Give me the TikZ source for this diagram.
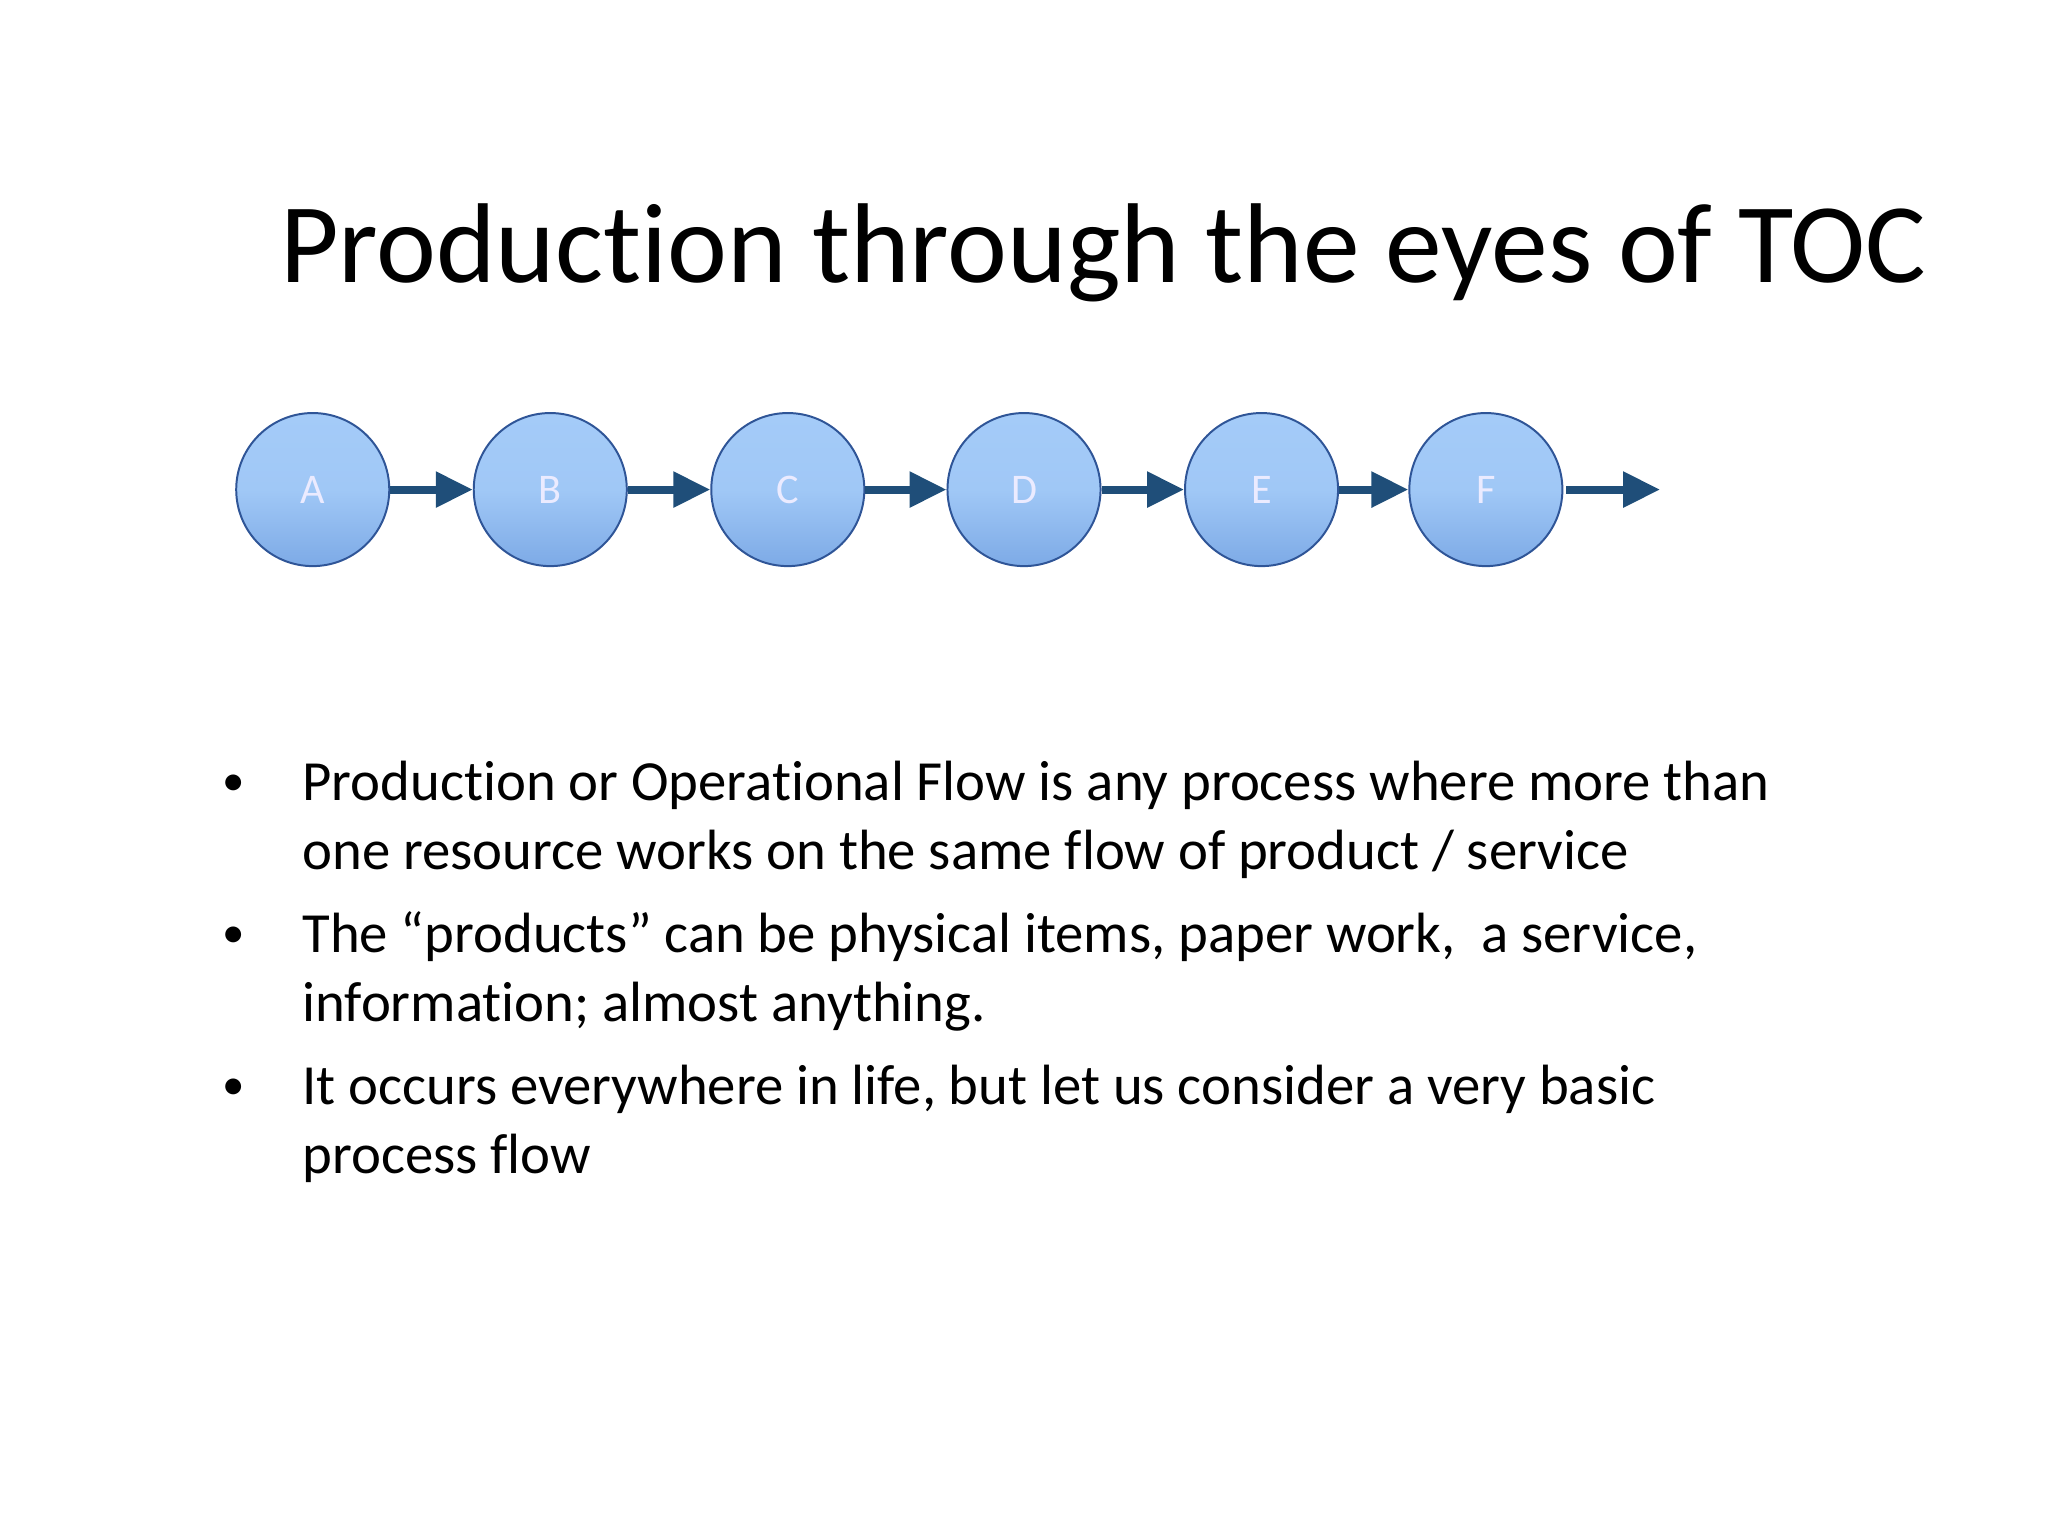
\documentclass[tikz,border=0pt]{standalone}
\usepackage{fontspec}
\setmainfont[Ligatures={NoCommon}]{Carlito}
\usetikzlibrary{arrows.meta}
\definecolor{cedge}{HTML}{2F5597}
\definecolor{ctop}{HTML}{A4CBF8}
\definecolor{cbot}{HTML}{7DAAE6}
\definecolor{arr}{HTML}{1F4E79}
\tikzset{
  proc/.style={circle,draw=cedge,line width=1.5pt,minimum size=116pt,inner sep=0pt,
    top color=ctop,bottom color=cbot,middle color=ctop!90!cbot,text=white!92!blue,font=\fontsize{32}{32}\selectfont},
  flow/.style={draw=arr,line width=6pt,-{Triangle[length=28pt,width=26pt]}},
  body/.style={anchor=base west,inner sep=0pt,font=\fontsize{43}{43}\selectfont},
  dot/.style={anchor=base,inner sep=0pt,font=\fontsize{34}{34}\selectfont}
}
\begin{document}
\begin{tikzpicture}[x=1pt,y=-1pt]
\useasboundingbox (0,0) rectangle (1552,1164);
\node[anchor=base west,inner sep=0pt,font=\fontsize{86}{86}\selectfont] (title) at (212,214) {Production through the eyes of TOC};
\node[proc] (A) at (237,371) {A};
\node[proc] (B) at (417,371) {B};
\node[proc] (C) at (597,371) {C};
\node[proc] (D) at (776,371) {D};
\node[proc] (E) at (956,371) {E};
\node[proc] (F) at (1126,371) {F};
\coordinate (end) at (1258,371);
\draw[flow] (A.east) -- (B.west);
\draw[flow] (B.east) -- (C.west);
\draw[flow] (C.east) -- (D.west);
\draw[flow] (D.east) -- (E.west);
\draw[flow] (E.east) -- (F.west);
\draw[flow] (F.east) ++(2,0) coordinate (fs) (fs) -- (end);
\node[dot] (d1) at (177,603) {•};
\node[dot] (d2) at (177,718) {•};
\node[dot] (d3) at (177,833) {•};
\node[body] (l1) at (229,607) {Production or Operational Flow is any process where more than};
\node[body] (l2) at (229,659) {one resource works on the same flow of product / service};
\node[body] (l3) at (229,722) {The “products” can be physical items, paper work,\ \ a service,};
\node[body] (l4) at (229,774) {information; almost anything.};
\node[body] (l5) at (229,837) {It occurs everywhere in life, but let us consider a very basic};
\node[body] (l6) at (229,889) {process flow};
\end{tikzpicture}
\end{document}
